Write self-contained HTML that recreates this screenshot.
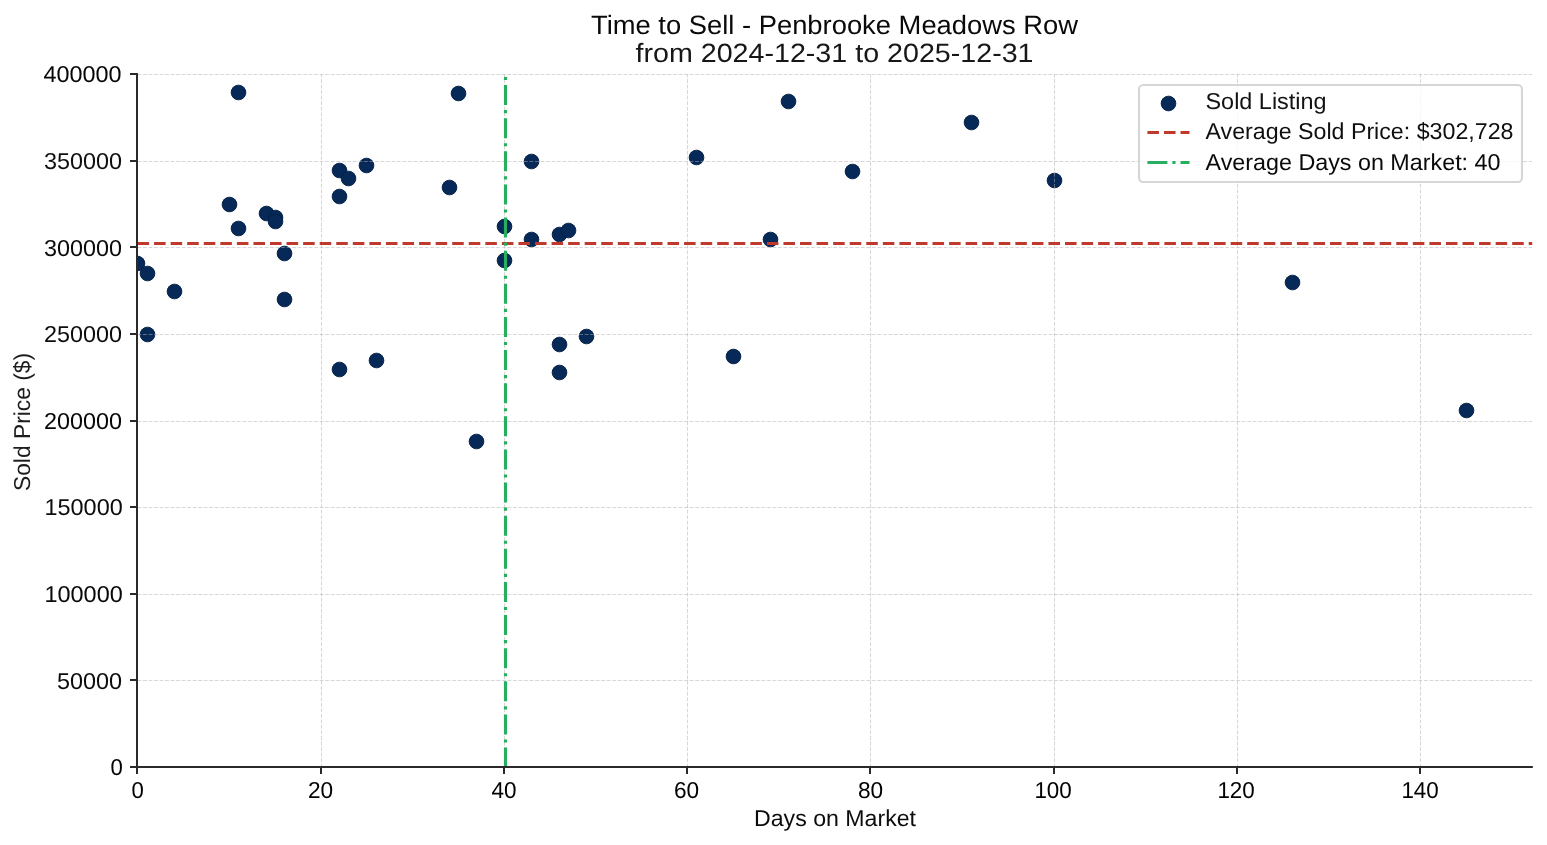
<!DOCTYPE html>
<html><head><meta charset="utf-8"><title>Time to Sell - Penbrooke Meadows Row</title>
<style>html,body{margin:0;padding:0;background:#fff;}svg{display:block;will-change:transform;}text{font-family:"Liberation Sans",sans-serif;text-rendering:geometricPrecision;}</style>
</head><body>
<svg width="1547" height="845" viewBox="0 0 1547 845">
<rect x="0" y="0" width="1547" height="845" fill="#ffffff"/>
<defs><clipPath id="ax"><rect x="137.417" y="74.300" width="1395.000" height="693.000"/></clipPath></defs>
<g clip-path="url(#ax)" fill="#062958" stroke="#021e44" stroke-width="0.9">
<circle cx="137.5" cy="263.5" r="7.35"/>
<circle cx="147.5" cy="273.5" r="7.35"/>
<circle cx="147.5" cy="334.5" r="7.35"/>
<circle cx="174.5" cy="291.5" r="7.35"/>
<circle cx="229.5" cy="204.5" r="7.35"/>
<circle cx="238.5" cy="92.5" r="7.35"/>
<circle cx="238.5" cy="228.5" r="7.35"/>
<circle cx="266.5" cy="213.5" r="7.35"/>
<circle cx="275.5" cy="217.5" r="7.35"/>
<circle cx="275.5" cy="221.5" r="7.35"/>
<circle cx="284.5" cy="253.5" r="7.35"/>
<circle cx="284.5" cy="299.5" r="7.35"/>
<circle cx="339.5" cy="170.5" r="7.35"/>
<circle cx="339.5" cy="196.5" r="7.35"/>
<circle cx="339.5" cy="369.5" r="7.35"/>
<circle cx="348.5" cy="178.5" r="7.35"/>
<circle cx="366.5" cy="165.5" r="7.35"/>
<circle cx="376.5" cy="360.5" r="7.35"/>
<circle cx="449.5" cy="187.5" r="7.35"/>
<circle cx="458.5" cy="93.5" r="7.35"/>
<circle cx="476.5" cy="441.5" r="7.35"/>
<circle cx="504.5" cy="226.5" r="7.35"/>
<circle cx="504.5" cy="260.5" r="7.35"/>
<circle cx="531.5" cy="161.5" r="7.35"/>
<circle cx="531.5" cy="239.5" r="7.35"/>
<circle cx="559.5" cy="234.5" r="7.35"/>
<circle cx="559.5" cy="344.5" r="7.35"/>
<circle cx="559.5" cy="372.5" r="7.35"/>
<circle cx="568.5" cy="230.5" r="7.35"/>
<circle cx="586.5" cy="336.5" r="7.35"/>
<circle cx="696.5" cy="157.5" r="7.35"/>
<circle cx="733.5" cy="356.5" r="7.35"/>
<circle cx="770.5" cy="239.5" r="7.35"/>
<circle cx="788.5" cy="101.5" r="7.35"/>
<circle cx="852.5" cy="171.5" r="7.35"/>
<circle cx="971.5" cy="122.5" r="7.35"/>
<circle cx="1054.5" cy="180.5" r="7.35"/>
<circle cx="1292.5" cy="282.5" r="7.35"/>
<circle cx="1466.5" cy="410.5" r="7.35"/>
</g>
<g stroke="#b0b0b0" stroke-opacity="0.5" stroke-width="1.0417" stroke-dasharray="3.8542 1.6667" fill="none">
<path d="M137.5 767.5V74.5"/>
<path d="M321.5 767.5V74.5"/>
<path d="M504.5 767.5V74.5"/>
<path d="M687.5 767.5V74.5"/>
<path d="M870.5 767.5V74.5"/>
<path d="M1054.5 767.5V74.5"/>
<path d="M1237.5 767.5V74.5"/>
<path d="M1420.5 767.5V74.5"/>
<path d="M137.5 767.5H1532"/>
<path d="M137.5 680.5H1532"/>
<path d="M137.5 594.5H1532"/>
<path d="M137.5 507.5H1532"/>
<path d="M137.5 421.5H1532"/>
<path d="M137.5 334.5H1532"/>
<path d="M137.5 247.5H1532"/>
<path d="M137.5 161.5H1532"/>
<path d="M137.5 74.5H1532"/>
</g>
<g clip-path="url(#ax)" fill="none" stroke-width="3.125">
<path d="M137.5 243.5H1532.5" stroke="#c0392b" stroke-dasharray="11.5625 5"/>
<path d="M505.5 767.5V74.5" stroke="#27ae60" stroke-dasharray="20 5 3.125 5"/>
</g>
<g fill="#2a2a2a" shape-rendering="crispEdges">
<rect x="136" y="73" width="2" height="695"/>
<rect x="136" y="766" width="1396" height="2"/>
<rect x="1532" y="766" width="1" height="2" fill="#4d4d4d"/>
<rect x="136" y="766" width="2" height="8"/>
<rect x="320" y="766" width="2" height="8"/>
<rect x="503" y="766" width="2" height="8"/>
<rect x="686" y="766" width="2" height="8"/>
<rect x="869" y="766" width="2" height="8"/>
<rect x="1053" y="766" width="2" height="8"/>
<rect x="1236" y="766" width="2" height="8"/>
<rect x="1419" y="766" width="2" height="8"/>
<rect x="130" y="766" width="8" height="2"/>
<rect x="130" y="679" width="8" height="2"/>
<rect x="130" y="593" width="8" height="2"/>
<rect x="130" y="506" width="8" height="2"/>
<rect x="130" y="420" width="8" height="2"/>
<rect x="130" y="333" width="8" height="2"/>
<rect x="130" y="246" width="8" height="2"/>
<rect x="130" y="160" width="8" height="2"/>
<rect x="130" y="73" width="8" height="2"/>
</g>
<g>
<rect x="1139" y="85" width="383" height="97" rx="4.17" ry="4.17" fill="#ffffff" fill-opacity="0.8" stroke="#cccccc" stroke-opacity="0.8" stroke-width="2.0833"/>
<circle cx="1168.5" cy="103.5" r="7.35" fill="#062958" stroke="#021e44" stroke-width="0.9"/>
<path d="M1147.4 132.5H1189.5" stroke="#c0392b" stroke-width="3.125" stroke-dasharray="11.5625 5" fill="none"/>
<path d="M1147.4 162.5H1189.5" stroke="#27ae60" stroke-width="3.125" stroke-dasharray="20 5 3.125 5" fill="none"/>
</g>
<text x="591.000" y="33.967" font-size="26.500" textLength="487.010" lengthAdjust="spacingAndGlyphs" fill="#0a0a0a">Time to Sell - Penbrooke Meadows Row</text>
<text x="635.500" y="61.849" font-size="26.500" textLength="398.020" lengthAdjust="spacingAndGlyphs" fill="#171717">from 2024-12-31 to 2025-12-31</text>
<text x="754.000" y="826.202" font-size="23.000" textLength="162.025" lengthAdjust="spacingAndGlyphs" fill="#0c0c0c">Days on Market</text>
<text transform="translate(30.236,491.000) rotate(-90)" x="0" y="0" font-size="23.000" textLength="138.030" lengthAdjust="spacingAndGlyphs" fill="#1d1d1d">Sold Price ($)</text>
<text x="131.500" y="797.900" font-size="23.000" textLength="12.324" lengthAdjust="spacingAndGlyphs">0</text>
<text x="308.000" y="797.900" font-size="23.000" textLength="25.190" lengthAdjust="spacingAndGlyphs" fill="#040404">20</text>
<text x="491.500" y="797.900" font-size="23.000" textLength="25.043" lengthAdjust="spacingAndGlyphs">40</text>
<text x="674.000" y="797.900" font-size="23.000" textLength="25.190" lengthAdjust="spacingAndGlyphs">60</text>
<text x="858.000" y="797.900" font-size="23.000" textLength="25.190" lengthAdjust="spacingAndGlyphs">80</text>
<text x="1034.400" y="797.900" font-size="23.000" textLength="37.370" lengthAdjust="spacingAndGlyphs">100</text>
<text x="1217.400" y="797.900" font-size="23.000" textLength="37.370" lengthAdjust="spacingAndGlyphs">120</text>
<text x="1401.400" y="797.900" font-size="23.000" textLength="37.370" lengthAdjust="spacingAndGlyphs">140</text>
<text x="110.500" y="774.801" font-size="23.000" textLength="12.324" lengthAdjust="spacingAndGlyphs">0</text>
<text x="57.000" y="688.880" font-size="23.000" textLength="65.066" lengthAdjust="spacingAndGlyphs" fill="#0c0c0c">50000</text>
<text x="44.500" y="601.606" font-size="23.000" textLength="78.222" lengthAdjust="spacingAndGlyphs" fill="#080808">100000</text>
<text x="44.500" y="514.682" font-size="23.000" textLength="78.222" lengthAdjust="spacingAndGlyphs" fill="#0c0c0c">150000</text>
<text x="44.000" y="428.829" font-size="23.000" textLength="78.054" lengthAdjust="spacingAndGlyphs" fill="#080808">200000</text>
<text x="44.000" y="341.897" font-size="23.000" textLength="78.054" lengthAdjust="spacingAndGlyphs" fill="#0d0d0d">250000</text>
<text x="44.000" y="255.747" font-size="23.000" textLength="78.054" lengthAdjust="spacingAndGlyphs" fill="#0b0b0b">300000</text>
<text x="44.000" y="168.809" font-size="23.000" textLength="78.054" lengthAdjust="spacingAndGlyphs" fill="#101010">350000</text>
<text x="43.500" y="81.703" font-size="23.000" textLength="78.013" lengthAdjust="spacingAndGlyphs" fill="#060606">400000</text>
<text x="1205.500" y="108.602" font-size="23.000" textLength="121.060" lengthAdjust="spacingAndGlyphs" fill="#131313">Sold Listing</text>
<text x="1205.500" y="139.045" font-size="23.000" textLength="308.013" lengthAdjust="spacingAndGlyphs" fill="#0f0f0f">Average Sold Price: $302,728</text>
<text x="1205.500" y="170.195" font-size="23.000" textLength="295.003" lengthAdjust="spacingAndGlyphs" fill="#090909">Average Days on Market: 40</text>
</svg>
</body></html>
